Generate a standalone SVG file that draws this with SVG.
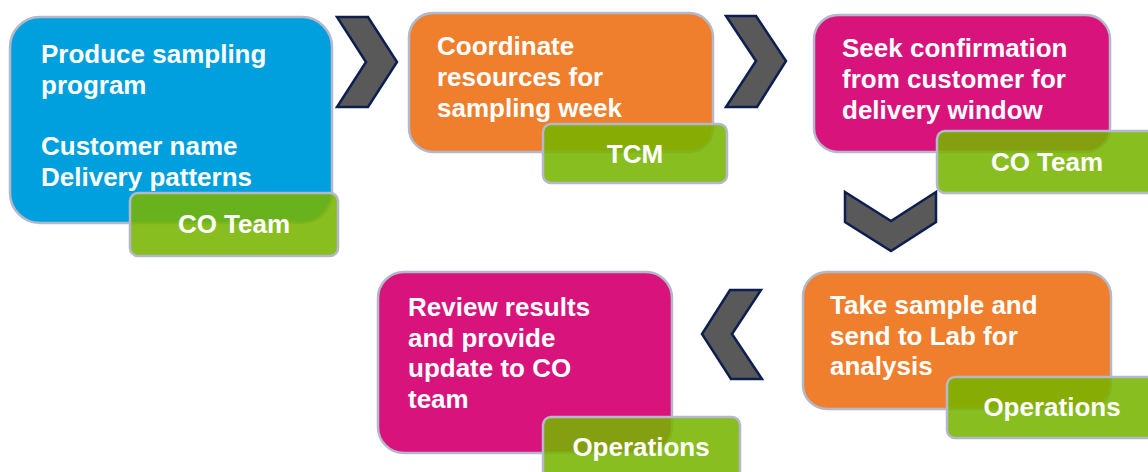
<svg xmlns="http://www.w3.org/2000/svg" width="1148" height="472" viewBox="0 0 1148 472">
  <style>
    .box { stroke: #b3b8cb; stroke-width: 2.5; }
    .blue { fill: #00a0df; }
    .orange { fill: #ef7f2c; }
    .magenta { fill: #d9137c; }
    .tag { fill: #78b400; fill-opacity: 0.87; stroke: #b3b8cb; stroke-width: 2.5; }
    .chev { fill: #595959; stroke: #0c1f4f; stroke-width: 2.5; stroke-linejoin: miter; }
    .t { font-family: "Liberation Sans", Arial, sans-serif; font-weight: bold; font-size: 26px; fill: #ffffff; }
    .c { text-anchor: middle; }
  </style>
  <rect width="1148" height="472" fill="#ffffff"/>

  <g id="connectors">
    <polygon class="chev" points="337,17 368,17 397,62 368,107 337,107 366,62"/>
    <polygon class="chev" points="726,16 756,16 786,61 757,107 726,107 756,61"/>
    <polygon class="chev" points="845,192 891,221 936,192 936,222 891,251 845,222"/>
    <polygon class="chev" points="761,290 730,290 702,334 731,379 762,379 732,334"/>
  </g>

  <g id="node-produce">
    <rect class="box blue" x="10" y="17" width="322" height="206" rx="30" ry="30"/>
    <text class="t" x="41" y="63">Produce sampling</text>
    <text class="t" x="41" y="94">program</text>
    <text class="t" x="41" y="155">Customer name</text>
    <text class="t" x="41" y="186">Delivery patterns</text>
  </g>
  <g id="tag-produce">
    <rect class="tag" x="130" y="193" width="208" height="63" rx="8" ry="8"/>
    <text class="t c" x="234" y="233">CO Team</text>
  </g>

  <g id="node-coordinate">
    <rect class="box orange" x="409" y="13" width="304" height="139" rx="24" ry="24"/>
    <text class="t" x="437" y="55">Coordinate</text>
    <text class="t" x="437" y="86">resources for</text>
    <text class="t" x="437" y="117">sampling week</text>
  </g>
  <g id="tag-coordinate">
    <rect class="tag" x="543" y="124" width="184" height="59" rx="8" ry="8"/>
    <text class="t c" x="635" y="163">TCM</text>
  </g>

  <g id="node-seek">
    <rect class="box magenta" x="814" y="15" width="296" height="137" rx="24" ry="24"/>
    <text class="t" x="842" y="57">Seek confirmation</text>
    <text class="t" x="842" y="88">from customer for</text>
    <text class="t" x="842" y="119">delivery window</text>
  </g>
  <g id="tag-seek">
    <rect class="tag" x="937" y="131" width="225" height="62" rx="8" ry="8"/>
    <text class="t c" x="1047" y="171">CO Team</text>
  </g>

  <g id="node-take">
    <rect class="box orange" x="803" y="272" width="308" height="137" rx="24" ry="24"/>
    <text class="t" x="830" y="314">Take sample and</text>
    <text class="t" x="830" y="345">send to Lab for</text>
    <text class="t" x="830" y="375">analysis</text>
  </g>
  <g id="tag-take">
    <rect class="tag" x="947" y="377" width="215" height="61" rx="8" ry="8"/>
    <text class="t c" x="1052" y="416">Operations</text>
  </g>

  <g id="node-review">
    <rect class="box magenta" x="378" y="272" width="294" height="181" rx="26" ry="26"/>
    <text class="t" x="408" y="316">Review results</text>
    <text class="t" x="408" y="347">and provide</text>
    <text class="t" x="408" y="377">update to CO</text>
    <text class="t" x="408" y="408">team</text>
  </g>
  <g id="tag-review">
    <rect class="tag" x="543" y="417" width="197" height="64" rx="8" ry="8"/>
    <text class="t c" x="641" y="456">Operations</text>
  </g>
</svg>
